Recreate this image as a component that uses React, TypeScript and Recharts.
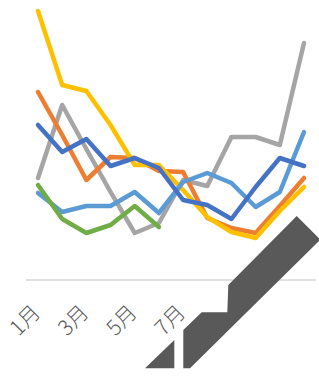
import { LineChart, Line, XAxis, YAxis } from "recharts"

const months = ["1月", "2月", "3月", "4月", "5月", "6月", "7月", "8月", "9月", "10月", "11月", "12月"]
const shownMonths = ["1月", "3月", "5月", "7月"]

const yellow = [26.9, 19.5, 18.9, 15.5, 11.5, 11.5, 9.0, 6.3, 4.8, 4.2, 6.9, 9.3]
const orange = [18.8, 14.5, 10.0, 12.3, 12.2, 10.9, 10.8, 6.2, 5.2, 4.7, 7.4, 10.2]
const gray = [10.2, 17.5, 13.1, 8.8, 4.7, 5.7, 10.0, 9.4, 14.3, 14.3, 13.5, 23.7]
const lightBlue = [8.7, 6.8, 7.4, 7.4, 8.8, 6.7, 9.8, 10.7, 9.7, 7.3, 8.8, 14.8]
const blue = [15.5, 12.8, 14.1, 11.4, 12.2, 11.2, 8.0, 7.5, 6.1, 9.3, 12.2, 11.4]
const green = [9.5, 6.1, 4.7, 5.5, 7.4, 5.3, null, null, null, null, null, null]

const data = months.map((m, i) => ({
  month: m,
  yellow: yellow[i],
  orange: orange[i],
  gray: gray[i],
  lightBlue: lightBlue[i],
  blue: blue[i],
  green: green[i],
}))

const series = [
  { key: "gray", color: "#A5A5A5" },
  { key: "orange", color: "#ED7D31" },
  { key: "yellow", color: "#FFC000" },
  { key: "lightBlue", color: "#5B9BD5" },
  { key: "blue", color: "#4472C4" },
  { key: "green", color: "#70AD47" },
]

const MonthTick = (props: any) => {
  const { x, y, payload } = props
  if (!shownMonths.includes(payload.value)) return <g />
  const ax = x + 3.5
  const ay = y + 26
  return (
    <text
      x={ax}
      y={ay}
      transform={`rotate(-45 ${ax} ${ay})`}
      textAnchor="end"
      fill="#595959"
      fontSize={21}
      fontWeight={300}
      fontFamily="'Noto Sans CJK JP', sans-serif"
    >
      {payload.value}
    </text>
  )
}

export default function App() {
  return (
    <div style={{ position: "absolute", left: 0, top: 0, width: 319, height: 377, background: "#fff" }}>
      <LineChart width={319} height={377} data={data} margin={{ top: 10, right: 3, bottom: 0, left: 26 }}>
        <XAxis
          dataKey="month"
          interval={0}
          height={97}
          padding={{ left: 12, right: 12 }}
          axisLine={{ stroke: "#D9D9D9", strokeWidth: 1.3 }}
          tickLine={false}
          tick={<MonthTick />}
        />
        <YAxis hide domain={[0, 27]} />
        {series.map((s) => (
          <Line
            key={s.key}
            dataKey={s.key}
            stroke={s.color}
            strokeWidth={4.5}
            strokeLinecap="round"
            strokeLinejoin="round"
            dot={false}
            activeDot={false}
            type="linear"
            isAnimationActive={false}
          />
        ))}
      </LineChart>
      <svg width={319} height={377} style={{ position: "absolute", left: 0, top: 0, pointerEvents: "none" }}>
        <polygon
          points="296.7,216 319,238.3 319,241 190,368.3 183.3,368.3 183.3,330 201.7,312.3 227.3,312.3 228.3,285"
          fill="#595959"
        />
        <polygon points="145,368.3 174.3,340 174.3,368.3" fill="#595959" />
      </svg>
    </div>
  )
}
